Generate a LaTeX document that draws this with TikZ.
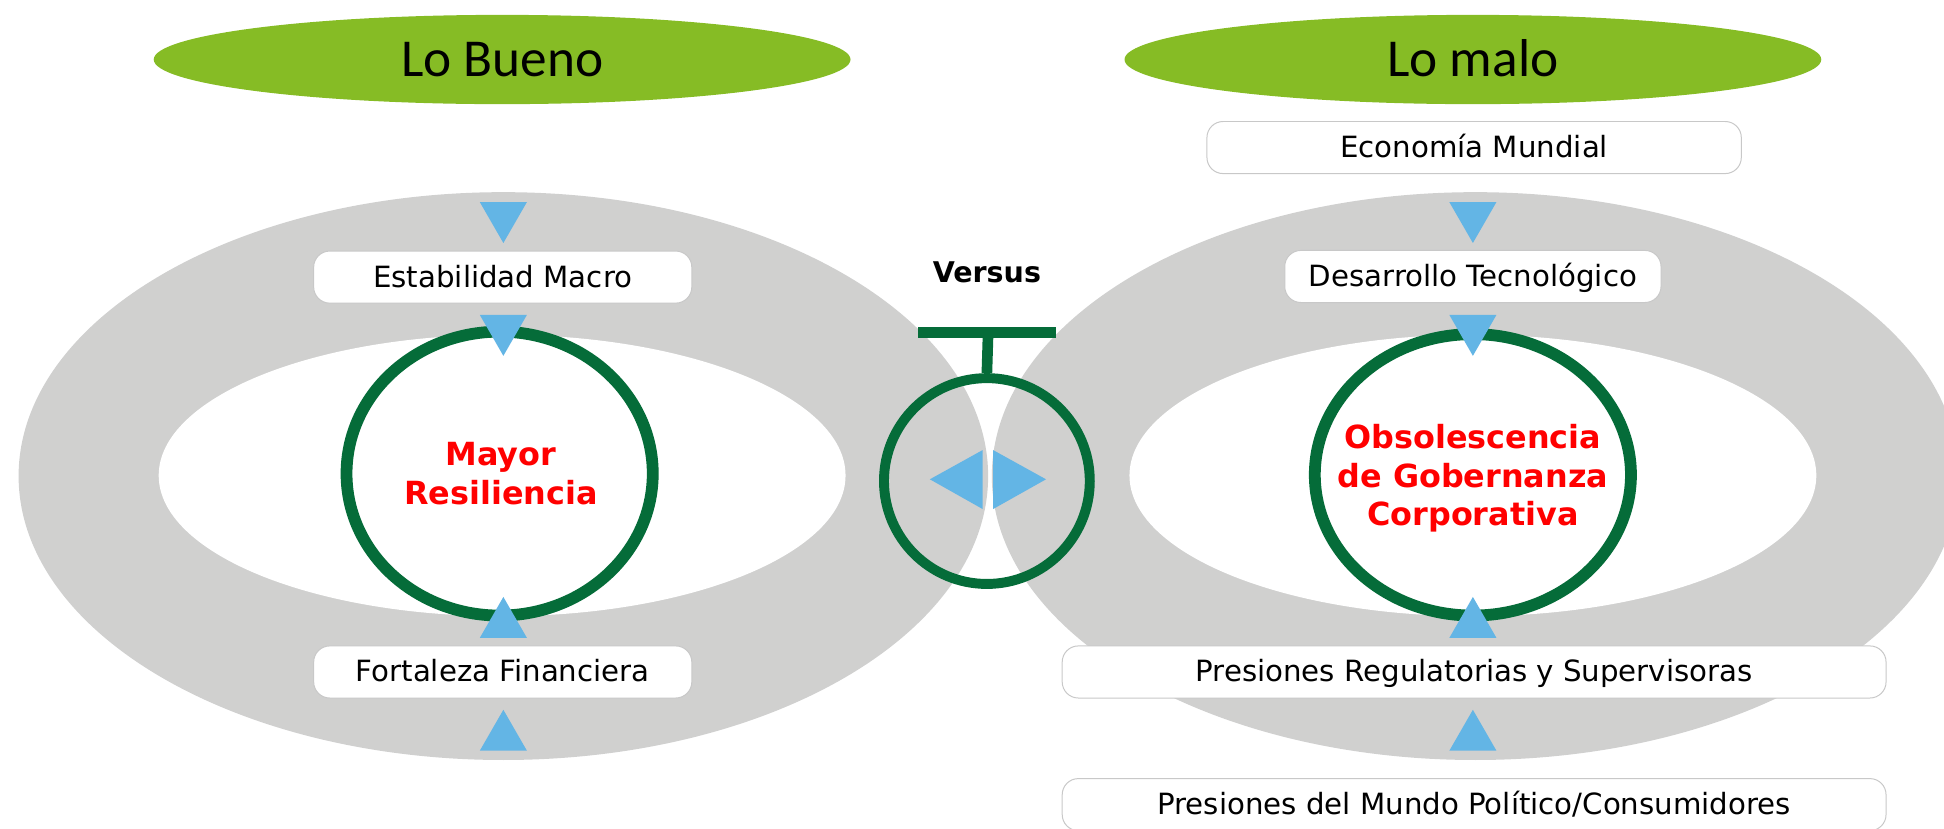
\documentclass[tikz,border=0pt]{standalone}
\usepackage{fontspec}
\setmainfont{DejaVu Sans}
\newfontfamily\hdrfont{Carlito}
\usetikzlibrary{shapes.geometric}
\definecolor{hdrgreen}{RGB}{134,188,37}
\definecolor{ringgreen}{RGB}{5,108,57}
\definecolor{triblue}{RGB}{99,181,229}
\definecolor{ringgray}{RGB}{208,208,207}
\definecolor{boxgray}{RGB}{200,200,200}
\tikzset{
  box/.style={draw=boxgray, line width=0.8pt, fill=white, rounded corners=13pt, minimum height=42pt, inner sep=0pt, text height=16pt, text depth=0pt, font=\fontsize{23.6}{28}\selectfont},
  hdr/.style={ellipse, fill=hdrgreen, minimum width=562pt, minimum height=72pt, inner sep=0pt, text height=27.7pt, text depth=0pt, font=\hdrfont\fontsize{43}{50}\selectfont},
  ring/.style={ellipse, draw=ringgreen, line width=9.5pt, inner sep=0pt},
  redtxt/.style={text=red, align=center, font=\bfseries\fontsize{25.7}{31}\selectfont},
  tri/.style={fill=triblue},
  graybg/.style={fill=ringgray},
  tridn/.pic={\fill[tri] (-19,-16.5) -- (19,-16.5) -- (0,16.5) -- cycle;},
  triup/.pic={\fill[tri] (-19,16.5) -- (19,16.5) -- (0,-16.5) -- cycle;},
}
\begin{document}
\begin{tikzpicture}[x=1pt,y=-1pt]
\useasboundingbox (0,0) rectangle (1568,668);
\clip (0,0) rectangle (1568,668);
% gray rings
\fill[graybg] (406,384) ellipse [x radius=391pt, y radius=229pt];
\fill[graybg] (1190,384) ellipse [x radius=390pt, y radius=229pt];
\fill[white] (405,383.5) ellipse [x radius=277pt, y radius=113.5pt];
\fill[white] (1188,383.5) ellipse [x radius=277pt, y radius=113.5pt];
% headers
\node[hdr] (bueno) at (405,48) {Lo Bueno};
\node[hdr] (malo) at (1188,48) {Lo malo};
% green rings
\node[ring, minimum width=247pt, minimum height=229pt] (ringL) at (403,382) {};
\node[ring, minimum width=255pt, minimum height=227pt] (ringR) at (1188,383) {};
% versus
\node[font=\bfseries\fontsize{23}{28}\selectfont] (versus) at (796,220) {Versus};
\node[circle, draw=ringgreen, line width=8pt, minimum size=166pt, inner sep=0pt] (vs) at (796,388) {};
\coordinate (barL) at (740.6,268);
\coordinate (barR) at (851.7,268);
\coordinate (barM) at (797,268);
\draw[ringgreen, line width=9pt] (barL) -- (barR);
\draw[ringgreen, line width=8.6pt] (barM) -- (vs.north);
\fill[tri] (750,386.6) -- (792.6,363) -- (792.6,410.6) -- cycle;
\fill[tri] (843.7,386.6) -- (801,363) -- (801,410.6) -- cycle;
% boxes
\node[box, minimum width=305pt] (estab) at (405.5,223.5) {Estabilidad Macro};
\node[box, minimum width=305pt] (forta) at (405.5,542) {Fortaleza Financiera};
\node[box, minimum width=431pt] (econ) at (1189,119) {Economía Mundial};
\node[box, minimum width=303.5pt] (desa) at (1188,223) {Desarrollo Tecnológico};
\node[box, minimum width=664.5pt] (preg) at (1189,542) {Presiones Regulatorias y Supervisoras};
\node[box, minimum width=664.5pt] (ppol) at (1189,649) {Presiones del Mundo Político/Consumidores};
% red texts
\node[redtxt] (mayor) at (404,382) {Mayor\\Resiliencia};
\node[redtxt] (obso) at (1188,386) {Obsolescencia\\de Gobernanza\\Corporativa};
% triangles
\pic at (406,179.5) {tridn};
\pic at (406,270.5) {tridn};
\pic at (406,498) {triup};
\pic at (406,589) {triup};
\pic at (1188,179.5) {tridn};
\pic at (1188,270.5) {tridn};
\pic at (1188,498) {triup};
\pic at (1188,589) {triup};
\end{tikzpicture}
\end{document}
